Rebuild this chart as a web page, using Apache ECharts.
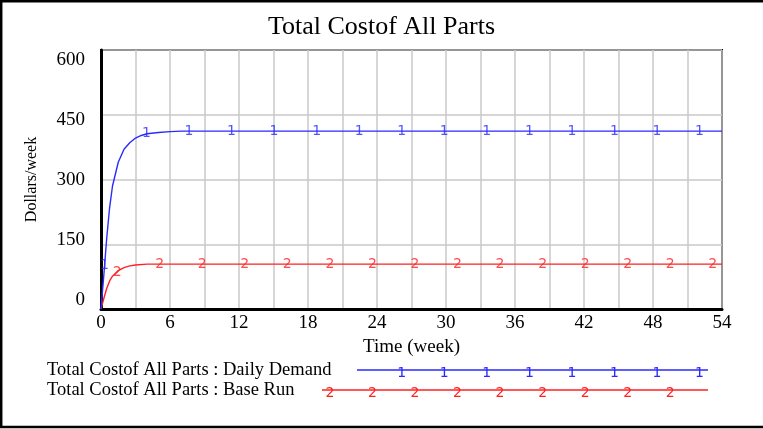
<!DOCTYPE html>
<html>
<head>
<meta charset="utf-8">
<script src="https://cdn.jsdelivr.net/npm/echarts@6/dist/echarts.min.js"></script>
<style>
html,body{margin:0;padding:0;background:#fff;}
#main{width:763px;height:429px;}
</style>
</head>
<body>
<div id="main"></div>
<script>
// ---- data ----
var titleText = 'Total Costof All Parts';
var xName = 'Time (week)';
var yName = 'Dollars/week';
var xTicks = [0, 6, 12, 18, 24, 30, 36, 42, 48, 54];
var yTicks = [0, 150, 300, 450, 600];

var blueName = 'Total Costof All Parts : Daily Demand';
var blueT = [0, 0.25, 0.5, 0.75, 1, 1.5, 2, 2.5, 3, 3.5, 4, 5, 6, 7, 54];
var blueV = [0, 80, 165, 235, 285, 340, 370, 385, 396, 402, 406, 409, 411, 412, 412];
var blueMarkT = [0.3, 3.95, 7.65, 11.35, 15.05, 18.75, 22.45, 26.15, 29.85, 33.55, 37.25, 40.95, 44.65, 48.35, 52.05];
var blueMarkV = [100, 407, 412, 412, 412, 412, 412, 412, 412, 412, 412, 412, 412, 412, 412];

var redName = 'Total Costof All Parts : Base Run';
var redT = [0, 0.25, 0.5, 0.75, 1, 1.5, 2, 2.5, 3, 4, 5, 54];
var redV = [0, 25, 48, 65, 76, 89, 96, 100, 102, 104, 104, 104];
var redMarkT = [1.4, 5.1, 8.8, 12.5, 16.2, 19.9, 23.6, 27.3, 31.0, 34.7, 38.4, 42.1, 45.8, 49.5, 53.2];
var redMarkV = [85, 104, 104, 104, 104, 104, 104, 104, 104, 104, 104, 104, 104, 104, 104];

// legend marker subsets (indices into the marker arrays)
var blueLegendMarkIdx = [7, 8, 9, 10, 11, 12, 13, 14];
var redLegendMarkIdx = [5, 6, 7, 8, 9, 10, 11, 12, 13];

var BLUE = '#2a2aff';
var RED = '#ff2020';
var SERIF = '"Liberation Serif","Times New Roman",serif';
var SANS = '"DejaVu Sans",sans-serif';

function zip(a, b) { return a.map(function (v, i) { return [v, b[i]]; }); }

var chart = echarts.init(document.getElementById('main'), null, {renderer: 'canvas'});

var markLabel = function (txt, color) {
  return {
    show: true, position: 'inside', formatter: txt, offset: [0, 3],
    color: color, fontFamily: SANS, fontSize: 14
  };
};

var option = {
  animation: false,
  backgroundColor: '#fff',
  title: {
    text: titleText, left: 'center', top: 9,
    textStyle: {fontFamily: SERIF, fontSize: 26, fontWeight: 'normal', color: '#000'}
  },
  grid: [
    {left: 101, right: 41, top: 50, bottom: 120, show: true, borderColor: '#000', borderWidth: 2},
    {left: 101, right: 41, top: 60, bottom: 129, show: false}
  ],
  xAxis: [
    {
      type: 'value', gridIndex: 0, min: 0, max: 54, interval: 3,
      name: xName, nameLocation: 'middle', nameGap: 28,
      nameTextStyle: {fontFamily: SERIF, fontSize: 19, color: '#000'},
      axisLine: {show: true, onZero: false, lineStyle: {color: '#000', width: 3}},
      axisTick: {show: false},
      splitLine: {show: true, lineStyle: {color: '#c8c8c8', width: 1.5}},
      axisLabel: {
        fontFamily: SERIF, fontSize: 19, color: '#000', margin: 5,
        formatter: function (v) { return xTicks.indexOf(v) >= 0 ? String(v) : ''; }
      }
    },
    {type: 'value', gridIndex: 1, min: 0, max: 54, show: false}
  ],
  yAxis: [
    {
      type: 'value', gridIndex: 0, min: 0, max: 600, interval: 150,
      name: yName, nameLocation: 'middle', nameGap: 61, nameRotate: 90,
      nameTextStyle: {fontFamily: SERIF, fontSize: 16, color: '#000'},
      axisLine: {show: true, lineStyle: {color: '#000', width: 3}},
      axisTick: {show: false},
      splitLine: {show: true, lineStyle: {color: '#c8c8c8', width: 1.5}},
      axisLabel: {show: false}
    },
    {
      type: 'value', gridIndex: 1, min: 0, max: 600, interval: 150,
      axisLine: {show: false}, axisTick: {show: false}, splitLine: {show: false},
      axisLabel: {
        fontFamily: SERIF, fontSize: 19, color: '#000', margin: 16,
        formatter: function (v) { return yTicks.indexOf(v) >= 0 ? String(v) : ''; }
      }
    }
  ],
  series: [
    {
      type: 'line', name: redName, data: zip(redT, redV), showSymbol: false,
      lineStyle: {color: RED, width: 1.4}, z: 3
    },
    {
      type: 'line', name: blueName, data: zip(blueT, blueV), showSymbol: false,
      lineStyle: {color: BLUE, width: 1.4}, z: 3
    },
    {
      type: 'scatter', data: zip(redMarkT, redMarkV), symbol: 'circle', symbolSize: 2,
      itemStyle: {color: 'rgba(0,0,0,0)'}, label: markLabel('2', RED), z: 4,
      labelLayout: {hideOverlap: false}
    },
    {
      type: 'scatter', data: zip(blueMarkT, blueMarkV), symbol: 'circle', symbolSize: 2,
      itemStyle: {color: 'rgba(0,0,0,0)'}, label: markLabel('1', BLUE), z: 4,
      labelLayout: {hideOverlap: false}
    }
  ]
};
chart.setOption(option);

// legend + outer frame as graphics; marker x positions from the x scale
function px(t) { return chart.convertToPixel({xAxisIndex: 0}, t); }
var legBlueY = 370, legRedY = 390;
var g = [];
g.push({type: 'polyline', shape: {points: [[770, 1.2], [1.2, 1.2], [1.2, 427], [770, 427]]}, style: {fill: null, stroke: '#000', lineWidth: 2.5}, silent: true});
g.push({type: 'text', x: 47, y: legBlueY, style: {text: blueName, font: '18.5px ' + SERIF, fill: '#000', textVerticalAlign: 'middle'}});
g.push({type: 'text', x: 47, y: legRedY, style: {text: redName, font: '18.5px ' + SERIF, fill: '#000', textVerticalAlign: 'middle'}});
g.push({type: 'line', shape: {x1: 357, y1: legBlueY, x2: 708, y2: legBlueY}, style: {stroke: BLUE, lineWidth: 1.4}});
g.push({type: 'line', shape: {x1: 322, y1: legRedY, x2: 708, y2: legRedY}, style: {stroke: RED, lineWidth: 1.4}});
blueLegendMarkIdx.forEach(function (i) {
  g.push({type: 'text', x: px(blueMarkT[i]), y: legBlueY + 3, style: {text: '1', font: '14px ' + SANS, fill: BLUE, textAlign: 'center', textVerticalAlign: 'middle'}});
});
redLegendMarkIdx.forEach(function (i) {
  g.push({type: 'text', x: px(redMarkT[i]), y: legRedY + 3, style: {text: '2', font: '14px ' + SANS, fill: RED, textAlign: 'center', textVerticalAlign: 'middle'}});
});
chart.setOption({graphic: g});
</script>
</body>
</html>
